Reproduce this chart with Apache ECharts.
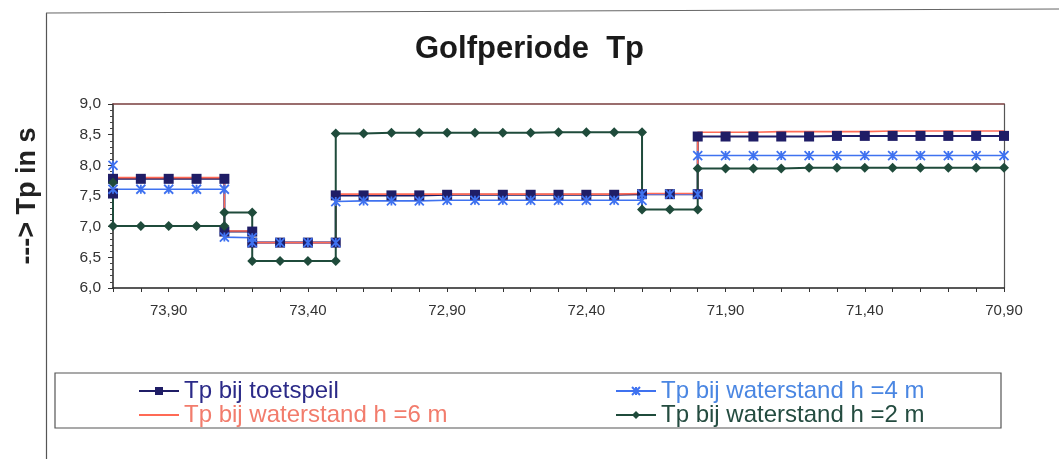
<!DOCTYPE html>
<html>
<head>
<meta charset="utf-8">
<script src="https://cdn.jsdelivr.net/npm/echarts@6/dist/echarts.min.js"></script>
<style>
html,body{margin:0;padding:0;background:#fff;}
#chart{width:1059px;height:459px;}
</style>
</head>
<body>
<div id="chart"></div>
<script>
// ---- data ----
const xLabels = [73.90, 73.40, 72.90, 72.40, 71.90, 71.40, 70.90];

const toetspeilX = [74.10, 74.10, 74.00, 73.90, 73.80, 73.70, 73.70, 73.60, 73.60, 73.50, 73.40, 73.30, 73.30,
  73.20, 73.10, 73.00, 72.90, 72.80, 72.70, 72.60, 72.50, 72.40, 72.30, 72.20, 72.10, 72.00, 72.00,
  71.90, 71.80, 71.70, 71.60, 71.50, 71.40, 71.30, 71.20, 71.10, 71.00, 70.90];
const toetspeilY = [7.54, 7.78, 7.78, 7.78, 7.78, 7.78, 6.92, 6.92, 6.74, 6.74, 6.74, 6.74, 7.51,
  7.51, 7.51, 7.51, 7.52, 7.52, 7.52, 7.52, 7.52, 7.52, 7.52, 7.53, 7.53, 7.53, 8.47,
  8.47, 8.47, 8.47, 8.47, 8.48, 8.48, 8.48, 8.48, 8.48, 8.48, 8.48];

const h6X = [74.10, 74.00, 73.90, 73.80, 73.70, 73.70, 73.60, 73.60, 73.50, 73.40, 73.30, 73.30,
  73.20, 73.10, 73.00, 72.90, 72.80, 72.70, 72.60, 72.50, 72.40, 72.30, 72.20, 72.10, 72.00, 72.00,
  71.90, 71.80, 71.70, 71.60, 71.50, 71.40, 71.30, 71.20, 71.10, 71.00, 70.90];
const h6Y = [7.80, 7.80, 7.80, 7.80, 7.80, 6.93, 6.93, 6.74, 6.74, 6.74, 6.74, 7.53,
  7.53, 7.53, 7.53, 7.53, 7.53, 7.53, 7.53, 7.53, 7.53, 7.53, 7.54, 7.54, 7.54, 8.54,
  8.54, 8.54, 8.55, 8.55, 8.55, 8.55, 8.56, 8.56, 8.56, 8.56, 8.56];

const h4X = [74.10, 74.10, 74.00, 73.90, 73.80, 73.70, 73.70, 73.60, 73.60, 73.50, 73.40, 73.30, 73.30,
  73.20, 73.10, 73.00, 72.90, 72.80, 72.70, 72.60, 72.50, 72.40, 72.30, 72.20, 72.20, 72.10, 72.00, 72.00,
  71.90, 71.80, 71.70, 71.60, 71.50, 71.40, 71.30, 71.20, 71.10, 71.00, 70.90];
const h4Y = [8.00, 7.61, 7.61, 7.61, 7.61, 7.61, 6.83, 6.82, 6.74, 6.74, 6.74, 6.74, 7.41,
  7.42, 7.42, 7.42, 7.43, 7.43, 7.43, 7.43, 7.43, 7.43, 7.43, 7.43, 7.53, 7.53, 7.53, 8.16,
  8.16, 8.16, 8.16, 8.16, 8.16, 8.16, 8.16, 8.16, 8.16, 8.16, 8.16];

const h2X = [74.10, 74.10, 74.00, 73.90, 73.80, 73.70, 73.70, 73.60, 73.60, 73.50, 73.40, 73.30, 73.30,
  73.20, 73.10, 73.00, 72.90, 72.80, 72.70, 72.60, 72.50, 72.40, 72.30, 72.20, 72.20, 72.10, 72.00, 72.00,
  71.90, 71.80, 71.70, 71.60, 71.50, 71.40, 71.30, 71.20, 71.10, 71.00, 70.90];
const h2Y = [7.72, 7.01, 7.01, 7.01, 7.01, 7.01, 7.23, 7.23, 6.44, 6.44, 6.44, 6.44, 8.52,
  8.52, 8.53, 8.53, 8.53, 8.53, 8.53, 8.53, 8.54, 8.54, 8.54, 8.54, 7.28, 7.28, 7.28, 7.95,
  7.95, 7.95, 7.95, 7.96, 7.96, 7.96, 7.96, 7.96, 7.96, 7.96, 7.96];

const seriesNames = ['Tp bij toetspeil', 'Tp bij waterstand h =4 m', 'Tp bij waterstand h =6 m', 'Tp bij waterstand h =2 m'];

// ---- helpers ----
function zip(xs, ys) { return xs.map((x, i) => [x, ys[i]]); }
const xTicks = [];
for (let k = 0; k <= 32; k++) xTicks.push(Math.round((70.9 + k * 0.1) * 100) / 100);
const comma = (v, d) => v.toFixed(d).replace('.', ',');

const C_NAVY = '#1f1d66', C_BLUE = '#3f72f0', C_RED = '#ff6a55', C_GREEN = '#1f4b3b';
const asterisk = 'path://M0,0L10,10M10,0L0,10M5,0L5,10';
const FONT = 'Liberation Sans, Arial, sans-serif';

const chart = echarts.init(document.getElementById('chart'), null, { renderer: 'canvas' });
chart.setOption({
  backgroundColor: '#ffffff',
  animation: false,
  title: {
    text: 'Golfperiode  Tp',
    left: 'center',
    top: 29,
    textStyle: { fontFamily: FONT, fontSize: 31, fontWeight: 'bold', color: '#1a1a1a' }
  },
  grid: { left: 113, right: 55, top: 104, bottom: 171, outerBoundsMode: 'none', show: false },
  legend: [
    {
      left: 133, top: 374, orient: 'vertical', itemGap: 0, itemWidth: 40, itemHeight: 10,
      data: [
        { name: seriesNames[0], textStyle: { color: '#2b2a88' } },
        { name: seriesNames[2], textStyle: { color: '#f27c6c' }, itemStyle: { color: 'rgba(0,0,0,0)', borderWidth: 0, opacity: 0 } }
      ],
      textStyle: { fontFamily: FONT, fontSize: 24 }
    },
    {
      left: 610, top: 374, orient: 'vertical', itemGap: 0, itemWidth: 40, itemHeight: 10,
      data: [
        { name: seriesNames[1], textStyle: { color: '#4a86e2' } },
        { name: seriesNames[3], textStyle: { color: '#244c40' } }
      ],
      textStyle: { fontFamily: FONT, fontSize: 24 }
    }
  ],
  xAxis: [
    {
      type: 'value', inverse: true, min: 70.9, max: 74.1,
      axisLine: { show: true, onZero: false, lineStyle: { color: '#222', width: 1.5 } },
      axisTick: { show: true, customValues: xTicks, length: 4, lineStyle: { color: '#333' } },
      axisLabel: {
        customValues: xLabels, margin: 15, color: '#333', fontSize: 15, fontFamily: FONT,
        formatter: v => comma(v, 2)
      },
      splitLine: { show: false }
    },
    {
      type: 'value', position: 'top', min: 0, max: 1,
      axisLine: { show: true, onZero: false, lineStyle: { color: '#7a3e3e', width: 1.5 } },
      axisTick: { show: false }, axisLabel: { show: false }, splitLine: { show: false }
    }
  ],
  yAxis: [
    {
      type: 'value', min: 6, max: 9, interval: 0.5,
      name: '---> Tp in s', nameLocation: 'middle', nameRotate: 90, nameGap: 72,
      nameTextStyle: { fontFamily: FONT, fontSize: 27, fontWeight: 'bold', color: '#222' },
      axisLine: { show: true, onZero: false, lineStyle: { color: '#222', width: 1.5 } },
      axisTick: { show: true, length: 5, lineStyle: { color: '#333' } },
      minorTick: { show: true, splitNumber: 5, length: 3, lineStyle: { color: '#444' } },
      axisLabel: {
        margin: 12, color: '#333', fontSize: 15.5, fontFamily: FONT,
        formatter: v => comma(v, 1)
      },
      splitLine: { show: false }
    },
    {
      type: 'value', position: 'right', min: 0, max: 1,
      axisLine: { show: true, onZero: false, lineStyle: { color: '#555', width: 1.2 } },
      axisTick: { show: false }, axisLabel: { show: false }, splitLine: { show: false }
    }
  ],
  series: [
    {
      name: seriesNames[0], type: 'line', xAxisIndex: 0, yAxisIndex: 0,
      data: zip(toetspeilX, toetspeilY),
      symbol: 'rect', symbolSize: 10, showAllSymbol: true,
      lineStyle: { color: C_NAVY, width: 2 },
      itemStyle: { color: C_NAVY }
    },
    {
      name: seriesNames[1], type: 'line', xAxisIndex: 0, yAxisIndex: 0,
      data: zip(h4X, h4Y),
      symbol: asterisk, symbolSize: 9, showAllSymbol: true,
      lineStyle: { color: C_BLUE, width: 1.6 },
      itemStyle: { color: C_BLUE, borderColor: C_BLUE, borderWidth: 1.8 }
    },
    {
      name: seriesNames[2], type: 'line', xAxisIndex: 0, yAxisIndex: 0,
      data: zip(h6X, h6Y),
      symbol: 'none',
      lineStyle: { color: C_RED, width: 1.6 },
      itemStyle: { color: C_RED }
    },
    {
      name: seriesNames[3], type: 'line', xAxisIndex: 0, yAxisIndex: 0,
      data: zip(h2X, h2Y),
      symbol: 'diamond', symbolSize: 10, showAllSymbol: true,
      lineStyle: { color: C_GREEN, width: 2 },
      itemStyle: { color: C_GREEN }
    }
  ],
  graphic: [
    { type: 'line', shape: { x1: 46.5, y1: 13, x2: 46.5, y2: 459 }, style: { stroke: '#555', lineWidth: 1.2 }, silent: true },
    { type: 'line', shape: { x1: 46, y1: 13, x2: 1059, y2: 9 }, style: { stroke: '#666', lineWidth: 1.2 }, silent: true },
    { type: 'rect', shape: { x: 55, y: 373, width: 946, height: 55 }, style: { fill: 'none', stroke: '#555', lineWidth: 1.2 }, silent: true, z: -1 }
  ]
});
</script>
</body>
</html>
